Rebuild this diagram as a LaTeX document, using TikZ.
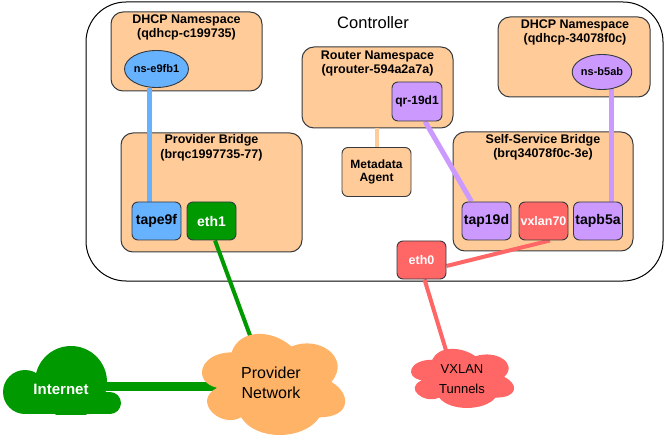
\documentclass[tikz,border=0pt]{standalone}
\usepackage{fontspec}
\setmainfont{Liberation Sans}
\usetikzlibrary{shapes.geometric}
\definecolor{boxfill}{HTML}{FFCC99}
\definecolor{boxline}{HTML}{36393D}
\definecolor{cblue}{HTML}{66B2FF}
\definecolor{cgreen}{HTML}{009900}
\definecolor{cpurple}{HTML}{CC99FF}
\definecolor{cred}{HTML}{FF6666}
\definecolor{corange}{HTML}{FFB366}
\pgfdeclarelayer{back}
\pgfdeclarelayer{mid}
\pgfsetlayers{back,mid,main}
\begin{document}
\begin{tikzpicture}[x=1pt,y=-1pt,
  bigbox/.style={draw=boxline, fill=boxfill, rounded corners=12pt, line width=1pt, inner sep=0pt},
  boxtitle/.style={font=\fontsize{12.5}{14.5}\selectfont\bfseries, align=center, inner sep=0pt},
  port/.style={draw=boxline, rounded corners=6pt, line width=0.9pt, minimum width=49pt, minimum height=38pt, inner sep=0pt, font=\fontsize{14}{16}\selectfont\bfseries},
  nsell/.style={ellipse, draw=boxline, line width=0.9pt, inner sep=0pt, font=\fontsize{11}{13}\selectfont\bfseries},
  cloudnode/.style={inner sep=0pt, align=center}
]
\useasboundingbox (0,0) rectangle (668,443);

\begin{pgfonlayer}{back}
\node[draw=black, line width=1pt, rounded corners=40pt, minimum width=577pt, minimum height=279pt, inner sep=0pt] (ctrl) at (374.5,141.5) {};
\node[bigbox, minimum width=151pt, minimum height=79pt] (dhcpL) at (186.5,51.5) {};
\node[bigbox, minimum width=152pt, minimum height=80pt] (dhcpR) at (574,57) {};
\node[bigbox, minimum width=181pt, minimum height=119pt] (pb) at (211.5,192.5) {};
\node[bigbox, minimum width=151pt, minimum height=81pt] (rn) at (377.5,87.5) {};
\node[bigbox, minimum width=180pt, minimum height=119pt] (ssb) at (543,191.5) {};
\end{pgfonlayer}

% titles
\node[font=\fontsize{16.5}{18}\selectfont] (ctitle) at (373,23) {Controller};
\node[boxtitle] (tdL) at (186.5,27.5) {DHCP Namespace\\(qdhcp-c199735)};
\node[boxtitle] (tdR) at (575,32.5) {DHCP Namespace\\(qdhcp-34078f0c)};
\node[boxtitle] (tpb) at (211.5,148) {Provider Bridge\\(brqc1997735-77)};
\node[boxtitle] (trn) at (377.5,63.3) {Router Namespace\\(qrouter-594a2a7a)};
\node[boxtitle] (tssb) at (543,147.2) {Self-Service Bridge\\(brq34078f0c-3e)};

% small nodes
\node[nsell, fill=cblue, minimum width=62pt, minimum height=37pt] (nsL) at (156.5,69) {ns-e9fb1};
\node[nsell, fill=cpurple, minimum width=58pt, minimum height=35pt] (nsR) at (602,72) {ns-b5ab};
\node[port, fill=cblue] (tape9f) at (156.5,221) {tape9f};
\node[port, fill=cgreen, text=white] (eth1) at (211.5,221) {eth1};
\node[port, fill=cpurple, minimum width=50pt, minimum height=39pt, font=\fontsize{12}{14}\selectfont\bfseries] (qr) at (417,101.5) {qr-19d1};
\node[port, fill=boxfill, minimum width=69pt, minimum height=49pt, align=center, font=\fontsize{12}{13}\selectfont\bfseries] (meta) at (376.5,172) {Metadata\\Agent};
\node[port, fill=cpurple] (tap19d) at (486.5,221) {tap19d};
\node[port, fill=cred, text=white, font=\fontsize{12.5}{14}\selectfont\bfseries] (vxlan) at (543.5,221) {vxlan70};
\node[port, fill=cpurple] (tapb5a) at (598,221) {tapb5a};
\node[port, fill=cred, text=white, font=\fontsize{12.5}{14}\selectfont\bfseries] (eth0) at (421.5,260) {eth0};

% cloud text nodes
\node[cloudnode, minimum width=143pt, minimum height=101pt, font=\fontsize{16}{20}\selectfont] (prov) at (271,383) {Provider\\Network};
\node[cloudnode, minimum width=103pt, minimum height=59pt, font=\fontsize{13}{20}\selectfont] (vx) at (462,379) {VXLAN\\Tunnels};
\node[cloudnode, minimum width=118pt, minimum height=68pt, text=white, font=\fontsize{15}{18}\selectfont\bfseries] (inet) at (61,389) {Internet};

\begin{pgfonlayer}{mid}
% connectors
\draw[cblue, line width=5pt] (nsL.250) -- (nsL.250 |- tape9f.north);
\draw[cpurple, line width=5pt] (nsR.300) -- (nsR.300 |- tapb5a.north);
\draw[cpurple, line width=5pt] ([xshift=8pt]qr.south) -- ([xshift=-15pt]tap19d.north);
\draw[boxfill, line width=4pt] (rn.south -| meta.north) -- (meta.north);
\draw[cgreen, line width=4pt] ([xshift=3.5pt]eth1.south) -- ([xshift=-20.5pt,yshift=-4.5pt]prov.north);
\draw[cgreen, line width=9pt] ([xshift=-20pt,yshift=3pt]inet.east) -- ([xshift=20pt,yshift=-3pt]prov.west);
\draw[cred, line width=4pt] ([xshift=6.5pt]vxlan.south) -- ([yshift=-6pt]eth0.east);
\draw[cred, line width=4pt] ([xshift=3pt]eth0.south) -- ([xshift=-15.4pt,yshift=-3pt]vx.north);
% clouds
\begin{scope}[shift={(191.6,322.9)}, x=159.8pt, y=-118pt]
\fill[corange] (0.25,0.25) .. controls (0.05,0.25) and (0,0.5) .. (0.16,0.55)
  .. controls (0,0.66) and (0.18,0.9) .. (0.31,0.8)
  .. controls (0.4,1) and (0.7,1) .. (0.8,0.8)
  .. controls (1,0.8) and (1,0.6) .. (0.875,0.5)
  .. controls (1,0.3) and (0.8,0.1) .. (0.625,0.2)
  .. controls (0.5,0.05) and (0.3,0.05) .. (0.25,0.25) -- cycle;
\end{scope}
\begin{scope}[shift={(403.5,342.5)}, x=115.1pt, y=-68.9pt]
\fill[cred] (0.25,0.25) .. controls (0.05,0.25) and (0,0.5) .. (0.16,0.55)
  .. controls (0,0.66) and (0.18,0.9) .. (0.31,0.8)
  .. controls (0.4,1) and (0.7,1) .. (0.8,0.8)
  .. controls (1,0.8) and (1,0.6) .. (0.875,0.5)
  .. controls (1,0.3) and (0.8,0.1) .. (0.625,0.2)
  .. controls (0.5,0.05) and (0.3,0.05) .. (0.25,0.25) -- cycle;
\end{scope}
\begin{scope}
\clip (0,0) rectangle (668,414);
\fill[cgreen] (25,392) circle[radius=22];
\fill[cgreen] (71,382) circle[radius=36];
\fill[cgreen] (110,403) circle[radius=11];
\fill[cgreen] (25,392) rectangle (110,414);
\end{scope}
\end{pgfonlayer}
\end{tikzpicture}
\end{document}
